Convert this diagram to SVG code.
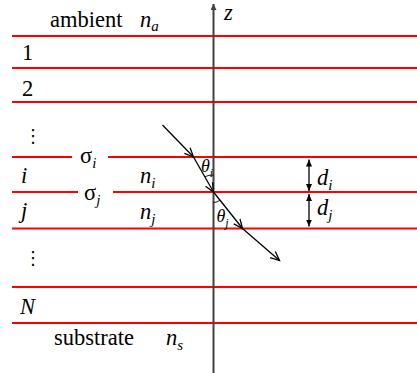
<svg xmlns="http://www.w3.org/2000/svg" width="417" height="373" viewBox="0 0 417 373">
<defs>
<style>
.iface{stroke:#ff0000;stroke-width:2.2;fill:none}
.t{font-size:22.5px;fill:#000}
.it{font-style:italic}
.sub{font-size:15px}
.th{font-size:18px;font-style:italic;fill:#000}
.ths{font-size:12px;font-style:italic}
.dots{font-size:18px;fill:#000}
.ray{stroke:#000;stroke-width:1.3;fill:none}
.axis{stroke:#404040;stroke-width:2;fill:none}
.arc{stroke:#000;stroke-width:0.9;fill:none}
</style>
<marker id="open" markerWidth="12" markerHeight="12" refX="10" refY="5" orient="auto" markerUnits="userSpaceOnUse">
<path d="M1,1 L10,5 L1,9" fill="none" stroke="#000" stroke-width="1.3"/>
</marker>
<marker id="fill" markerWidth="8" markerHeight="8" refX="7" refY="3" orient="auto-start-reverse" markerUnits="userSpaceOnUse">
<path d="M0,0 L7,3 L0,6 Z" fill="#000"/>
</marker>
<marker id="zhead" markerWidth="10" markerHeight="10" refX="6" refY="3" orient="auto" markerUnits="userSpaceOnUse">
<path d="M0,0 L6,3 L0,6 Z" fill="#404040"/>
</marker>
</defs>
<rect width="417" height="373" fill="#fff"/>

<g id="interfaces">
<line class="iface" x1="12" y1="36" x2="417" y2="36"/>
<line class="iface" x1="12" y1="68" x2="417" y2="68"/>
<line class="iface" x1="12" y1="102" x2="417" y2="102"/>
<line class="iface" x1="12" y1="157" x2="72" y2="157"/>
<line class="iface" x1="108" y1="157" x2="417" y2="157"/>
<line class="iface" x1="12" y1="192" x2="78" y2="192"/>
<line class="iface" x1="113" y1="192" x2="417" y2="192"/>
<line class="iface" x1="12" y1="228.5" x2="417" y2="228.5"/>
<line class="iface" x1="12" y1="287" x2="417" y2="287"/>
<line class="iface" x1="12" y1="323" x2="417" y2="323"/>
</g>

<g id="z-axis" font-family="Liberation Serif">
<line class="axis" x1="213.5" y1="373" x2="213.5" y2="4" marker-end="url(#zhead)"/>
<text class="t it" x="224" y="20">z</text>
</g>

<g id="labels" font-family="Liberation Serif">
<text class="t" x="50" y="27">ambient</text>
<text class="t it" x="140" y="27">n<tspan class="sub" dy="4">a</tspan></text>
<text class="t" x="22" y="60">1</text>
<text class="t" x="22" y="96">2</text>
<text class="dots" font-family="DejaVu Sans" x="24" y="142">⋮</text>
<text class="t" x="80" y="163">σ<tspan class="sub it" dy="5">i</tspan></text>
<text class="t it" x="21" y="183">i</text>
<text class="t it" x="140" y="183">n<tspan class="sub" dy="5">i</tspan></text>
<text class="t" x="84" y="200">σ<tspan class="sub it" dy="5">j</tspan></text>
<text class="t it" x="21" y="218">j</text>
<text class="t it" x="140" y="219">n<tspan class="sub" dy="5">j</tspan></text>
<text class="dots" font-family="DejaVu Sans" x="24" y="264">⋮</text>
<text class="t it" x="20" y="314">N</text>
<text class="t" x="54" y="345">substrate</text>
<text class="t it" x="166" y="345">n<tspan class="sub" dy="5">s</tspan></text>
</g>

<g id="connectors">
<line class="ray" x1="162.5" y1="125" x2="193.5" y2="157" marker-end="url(#open)"/>
<line class="ray" x1="193.5" y1="157" x2="213.5" y2="192" marker-end="url(#open)"/>
<line class="ray" x1="213.5" y1="192" x2="242.5" y2="228.5" marker-end="url(#open)"/>
<line class="ray" x1="242.5" y1="228.5" x2="279.5" y2="260.5" marker-end="url(#open)"/>
<line class="ray" x1="309" y1="159.5" x2="309" y2="191" marker-start="url(#fill)" marker-end="url(#fill)"/>
<line class="ray" x1="309" y1="194" x2="309" y2="226.5" marker-start="url(#fill)" marker-end="url(#fill)"/>
</g>

<g id="angles" font-family="Liberation Serif">
<path class="arc" d="M213.5,175 A17.5,17.5 0 0 0 204.8,176.8"/>
<path class="arc" d="M213.5,202.5 A10.5,10.5 0 0 0 220,200.2"/>
<text class="th" x="201" y="172">θ<tspan class="ths" dy="5">i</tspan></text>
<text class="th" x="216.5" y="221.5">θ<tspan class="ths" dy="5">j</tspan></text>
</g>

<g id="thickness" font-family="Liberation Serif">
<text class="t it" x="317" y="185">d<tspan class="sub" dy="5">i</tspan></text>
<text class="t it" x="317" y="215">d<tspan class="sub" dy="5">j</tspan></text>
</g>
</svg>
